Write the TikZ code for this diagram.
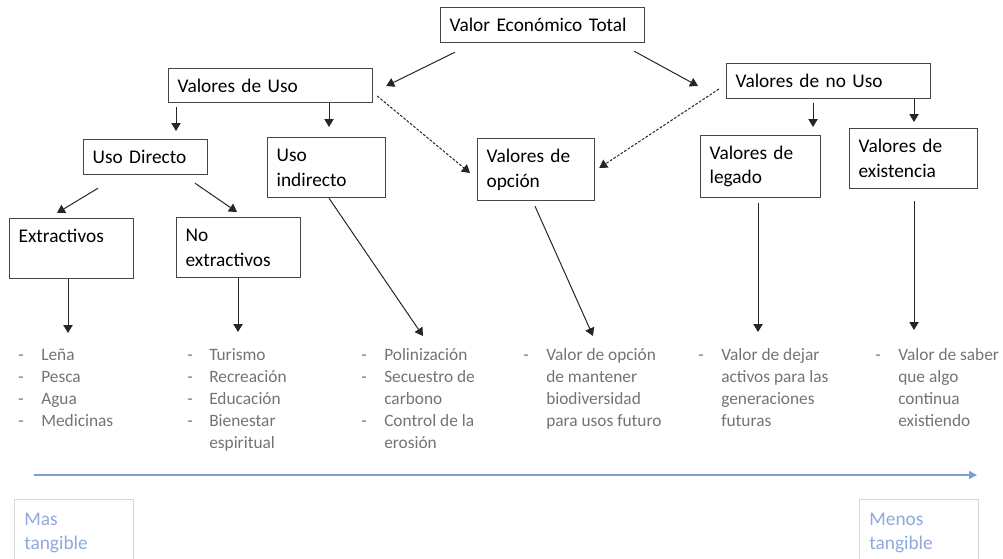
\documentclass[tikz,border=0pt]{standalone}
\usepackage{fontspec}
\setmainfont{Carlito}
\usetikzlibrary{arrows.meta}
\definecolor{boxline}{RGB}{70,70,70}
\definecolor{listgray}{RGB}{115,115,115}
\definecolor{axisblue}{RGB}{125,160,205}
\definecolor{tangblue}{RGB}{142,169,219}
\definecolor{tangline}{RGB}{215,215,215}
\begin{document}
\begin{tikzpicture}[x=0.75pt,y=-0.75pt,
 box/.style={draw=boxline, line width=0.9pt, anchor=north west, inner xsep=6.75pt, inner ysep=2pt, align=left, font=\fontsize{14.5}{18.5}\selectfont},
 conn/.style={draw=black!85, line width=0.75pt, -{Triangle[width=7pt,length=6pt]}},
 dconn/.style={conn, dash pattern=on 2pt off 1.2pt},
 lst/.style={anchor=base west, inner sep=0pt, text=listgray, font=\fontsize{13}{16.5}\selectfont},
 tang/.style={draw=tangline, line width=0.5pt, anchor=north west, align=left, inner xsep=7.5pt, inner ysep=10pt, text=tangblue, font=\fontsize{14.5}{18}\selectfont},
]
\useasboundingbox (0,0) rectangle (1003,558);

% boxes
\node[box, minimum height=26.25pt, text width=139.5pt] (vet) at (440,7) {Valor Económico Total};
\node[box, minimum height=25.5pt, text width=139.5pt] (vdu) at (168,68) {Valores de Uso};
\node[box, minimum height=26.25pt, text width=139.5pt] (vnu) at (726,63) {Valores de no Uso};
\node[box, minimum height=26.25pt, text width=79.5pt] (ud) at (83,139) {Uso Directo};
\node[box, minimum height=45pt, text width=75pt] (ui) at (267,137) {Uso\\indirecto};
\node[box, minimum height=46.5pt, text width=74.25pt] (vo) at (477,138) {Valores de\\opción};
\node[box, minimum height=46.5pt, text width=76.5pt] (vl) at (700,135) {Valores de\\legado};
\node[box, minimum height=45pt, text width=82.5pt] (ve) at (849,128) {Valores de\\existencia};
\node[box, minimum height=45pt, text width=79.5pt] (ext) at (9,218) {Extractivos\\~};
\node[box, minimum height=45pt, text width=79.5pt] (nex) at (176,217) {No\\extractivos};

% lists
\node[lst] (l1) at (18,360) {\begin{tabular}[t]{@{}p{17.25pt}@{}l@{}} - & Leña\\ - & Pesca\\ - & Agua\\ - & Medicinas\end{tabular}};
\node[lst] (l2) at (187,360) {\begin{tabular}[t]{@{}p{16.5pt}@{}l@{}} - & Turismo\\ - & Recreación\\ - & Educación\\ - & Bienestar\\ & espiritual\end{tabular}};
\node[lst] (l3) at (361,360) {\begin{tabular}[t]{@{}p{17.25pt}@{}l@{}} - & Polinización\\ - & Secuestro de\\ & carbono\\ - & Control de la\\ & erosión\end{tabular}};
\node[lst] (l4) at (523,360) {\begin{tabular}[t]{@{}p{17.25pt}@{}l@{}} - & Valor de opción\\ & de mantener\\ & biodiversidad\\ & para usos futuro\end{tabular}};
\node[lst] (l5) at (698,360) {\begin{tabular}[t]{@{}p{17.25pt}@{}l@{}} - & Valor de dejar\\ & activos para las\\ & generaciones\\ & futuras\end{tabular}};
\node[lst] (l6) at (875,360) {\begin{tabular}[t]{@{}p{17.25pt}@{}l@{}} - & Valor de saber\\ & que algo\\ & continua\\ & existiendo\end{tabular}};

% list arrow ends
\coordinate (e1) at (68,333);
\coordinate (e2) at (238,332);
\coordinate (e3) at (423,336);
\coordinate (e4) at (593,336);
\coordinate (e5) at (758,332);
\coordinate (e6) at (914,330);

% connectors
\draw[conn] ([shift={(15,9)}]vet.south west) -- ([shift={(13,18)}]vdu.north east);
\draw[conn] ([shift={(-11,8)}]vet.south east) -- ([shift={(-28,23)}]vnu.north west);
\draw[conn] ([shift={(8,4)}]vdu.south west) -- ([shift={(93,-8)}]ud.north west);
\draw[conn] ([shift={(161,0)}]vdu.south west) -- ([shift={(62,-10)}]ui.north west);
\draw[dconn] ([shift={(4,28)}]vdu.north east) -- ([shift={(-7,35)}]vo.north west);
\draw[dconn] ([shift={(-7,26)}]vnu.north west) -- ([shift={(4,30)}]vo.north east);
\draw[conn] ([shift={(87,4)}]vnu.south west) -- ([shift={(113,-8)}]vl.north west);
\draw[conn] ([shift={(188,0)}]vnu.south west) -- ([shift={(65,-6)}]ve.north west);
\draw[conn] ([shift={(15,13)}]ud.south west) -- ([shift={(48,-5)}]ext.north west);
\draw[conn] ([shift={(112,8)}]ud.south west) -- ([shift={(61,-5)}]nex.north west);
\draw[conn] ([shift={(59,0)}]ext.south west) -- (e1);
\draw[conn] ([shift={(62,0)}]nex.south west) -- (e2);
\draw[conn] ([shift={(62,0)}]ui.south west) -- (e3);
\draw[conn] ([shift={(58,5)}]vo.south west) -- (e4);
\draw[conn] ([shift={(58,5)}]vl.south west) -- (e5);
\draw[conn] ([shift={(65,12)}]ve.south west) -- (e6);

% tangibility axis
\coordinate (ax0) at (34,475);
\coordinate (ax1) at (977,475);
\draw[axisblue, line width=1.1pt, -{Triangle[width=6pt,length=6pt]}] (ax0) -- (ax1);
\node[tang, text width=74.25pt] (mas) at (14,499) {Mas\\tangible};
\node[tang, text width=74.25pt] (menos) at (859,499) {Menos\\tangible};
\end{tikzpicture}
\end{document}
